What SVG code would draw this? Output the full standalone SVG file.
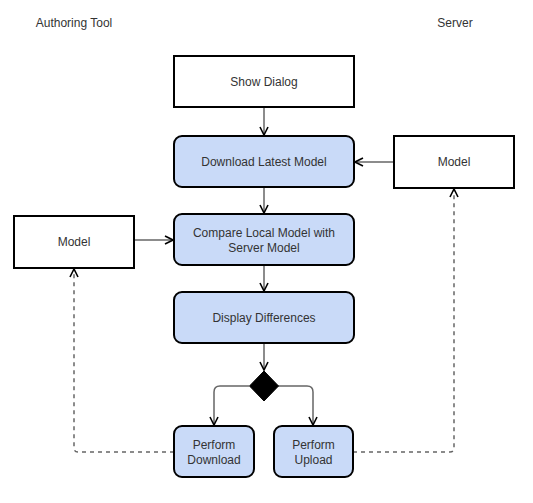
<svg xmlns="http://www.w3.org/2000/svg" width="533" height="503" viewBox="0 0 533 503">
<defs>
<marker id="arr" viewBox="0 0 10 10" refX="9" refY="5" markerWidth="10" markerHeight="10" markerUnits="userSpaceOnUse" orient="auto">
<path d="M1,1 L9,5 L1,9" fill="none" stroke="#000" stroke-width="1.6"/>
</marker>
</defs>
<style>
text{font-family:"Liberation Sans",Arial,sans-serif;font-size:12px;fill:#333;text-anchor:middle;}
.plain{fill:#fff;stroke:#000;stroke-width:2;}
.act{fill:#c9daf8;stroke:#000;stroke-width:2;}
.c{fill:none;stroke:#666;stroke-width:1.5;marker-end:url(#arr);}
.d{fill:none;stroke:#666;stroke-width:1.5;stroke-dasharray:4,4;marker-end:url(#arr);}
</style>
<rect width="533" height="503" fill="#fff"/>
<text x="74" y="27">Authoring Tool</text>
<text x="455" y="27">Server</text>
<g id="connectors">
<path class="c" d="M264,107 V135"/>
<path class="c" d="M394,162 H355"/>
<path class="c" d="M264,187 V213"/>
<path class="c" d="M134,240 H173"/>
<path class="c" d="M264,265 V291"/>
<path class="c" d="M264,343 V370"/>
<path class="c" d="M249,386 H220 Q214,386 214,392 V425"/>
<path class="c" d="M278,386 H307 Q313,386 313,392 V425"/>
<path class="d" d="M174,452 H78 Q74,452 74,448 V269"/>
<path class="d" d="M353,452 H450 Q454,452 454,448 V189"/>
</g>
<g id="show-dialog"><rect class="plain" x="174" y="56" width="180" height="51"/><text x="264" y="86">Show Dialog</text></g>
<g id="download-latest"><rect class="act" x="174" y="136" width="180" height="51" rx="8"/><text x="264" y="166">Download Latest Model</text></g>
<g id="server-model"><rect class="plain" x="394" y="136" width="120" height="52"/><text x="454" y="166">Model</text></g>
<g id="compare"><rect class="act" x="174" y="214" width="180" height="51" rx="8"/><text x="264" y="237">Compare Local Model with</text><text x="264" y="252">Server Model</text></g>
<g id="local-model"><rect class="plain" x="14" y="216" width="120" height="52"/><text x="74" y="246">Model</text></g>
<g id="display-diff"><rect class="act" x="174" y="292" width="180" height="51" rx="8"/><text x="264" y="322">Display Differences</text></g>
<g id="decision"><path d="M264,371 L278.5,386 L264,401 L249.5,386 Z" fill="#000" stroke="#000" stroke-width="1"/></g>
<g id="perform-download"><rect class="act" x="174" y="426" width="80" height="51" rx="8"/><text x="214" y="449">Perform</text><text x="214" y="464">Download</text></g>
<g id="perform-upload"><rect class="act" x="274" y="426" width="79" height="51" rx="8"/><text x="313.5" y="449">Perform</text><text x="313.5" y="464">Upload</text></g>
</svg>
